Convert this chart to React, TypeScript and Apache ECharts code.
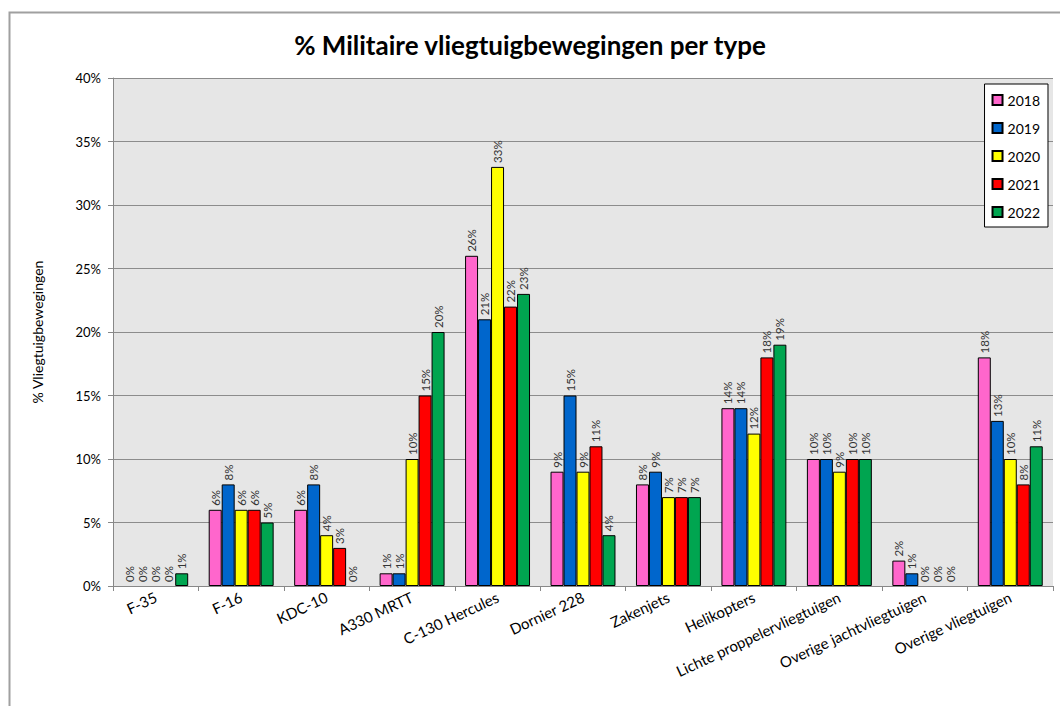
import React, { useEffect, useRef } from "react";
import * as echarts from "echarts";

const categories = [
  "F-35",
  "F-16",
  "KDC-10",
  "A330 MRTT",
  "C-130 Hercules",
  "Dornier 228",
  "Zakenjets",
  "Helikopters",
  "Lichte proppelervliegtuigen",
  "Overige jachtvliegtuigen",
  "Overige vliegtuigen",
];

const years = ["2018", "2019", "2020", "2021", "2022"];

const values2018 = [0, 6, 6, 1, 26, 9, 8, 14, 10, 2, 18];
const values2019 = [0, 8, 8, 1, 21, 15, 9, 14, 10, 1, 13];
const values2020 = [0, 6, 4, 10, 33, 9, 7, 12, 9, 0, 10];
const values2021 = [0, 6, 3, 15, 22, 11, 7, 18, 10, 0, 8];
const values2022 = [1, 5, 0, 20, 23, 4, 7, 19, 10, 0, 11];

const yTicks = [0, 5, 10, 15, 20, 25, 30, 35, 40];

const seriesValues = [values2018, values2019, values2020, values2021, values2022];
const colors = ["#ff66cc", "#0066cc", "#ffff00", "#ff0000", "#00a550"];

const FONT = "Lato, 'Liberation Sans', sans-serif";

export default function App() {
  const ref = useRef<HTMLDivElement>(null);

  useEffect(() => {
    if (!ref.current) return;
    const chart = echarts.init(ref.current, null, { renderer: "svg" });
    chart.setOption({
      animation: false,
      backgroundColor: "#ffffff",
      textStyle: { fontFamily: FONT },
      title: {
        text: "% Militaire vliegtuigbewegingen per type",
        left: "center",
        top: 27,
        textStyle: { fontSize: 26, fontWeight: "bold", color: "#000", fontFamily: FONT },
      },
      graphic: [
        {
          type: "rect",
          left: 7,
          top: 10,
          shape: { width: 1070, height: 700 },
          style: { fill: "none", stroke: "#a0a0a0", lineWidth: 2 },
          silent: true,
          z: -1,
        },
      ],
      legend: {
        orient: "vertical",
        right: 12,
        top: 84,
        data: years,
        backgroundColor: "#ffffff",
        borderColor: "#000",
        borderWidth: 1,
        borderRadius: 0,
        padding: [9, 8, 8, 7],
        itemWidth: 10,
        itemHeight: 10,
        itemGap: 14,
        icon: "rect",
        textStyle: { fontSize: 14, color: "#000", fontFamily: FONT },
      },
      grid: {
        left: 113,
        right: 7,
        top: 78,
        bottom: 120,
        show: true,
        backgroundColor: "#e6e6e6",
        borderWidth: 0,
      },
      xAxis: {
        type: "category",
        data: categories,
        axisLine: { lineStyle: { color: "#888", width: 1 } },
        axisTick: { show: true, length: 5, lineStyle: { color: "#888" } },
        axisLabel: {
          interval: 0,
          rotate: 25,
          fontSize: 15,
          color: "#000",
          margin: 10,
          fontFamily: FONT,
        },
      },
      yAxis: {
        type: "value",
        min: 0,
        max: yTicks[yTicks.length - 1],
        interval: yTicks[1] - yTicks[0],
        name: "% Vliegtuigbewegingen",
        nameLocation: "middle",
        nameRotate: 90,
        nameGap: 69,
        nameTextStyle: { fontSize: 14, color: "#000", fontFamily: FONT },
        axisLine: { show: true, lineStyle: { color: "#888" } },
        axisTick: { show: true, length: 5, lineStyle: { color: "#888" } },
        axisLabel: {
          formatter: "{value}%",
          fontSize: 13,
          color: "#000",
          margin: 12,
          fontFamily: FONT,
        },
        splitLine: { lineStyle: { color: "#8c8c8c", width: 1 } },
      },
      series: years.map((y, i) => ({
        name: y,
        type: "bar",
        data: seriesValues[i].map((v) =>
          v === 0 ? { value: v, itemStyle: { borderWidth: 0 } } : v
        ),
        barGap: "0%",
        barCategoryGap: "24%",
        itemStyle: { color: colors[i], borderColor: "#000", borderWidth: 1 },
        label: {
          show: true,
          position: "top",
          rotate: 90,
          align: "left",
          verticalAlign: "middle",
          distance: 4,
          formatter: "{c}%",
          fontSize: 11.5,
          color: "#333",
          fontFamily: FONT,
        },
      })),
    });
    return () => chart.dispose();
  }, []);

  return (
    <div
      ref={ref}
      style={{ position: "fixed", left: 0, top: 0, width: 1060, height: 706 }}
    />
  );
}
